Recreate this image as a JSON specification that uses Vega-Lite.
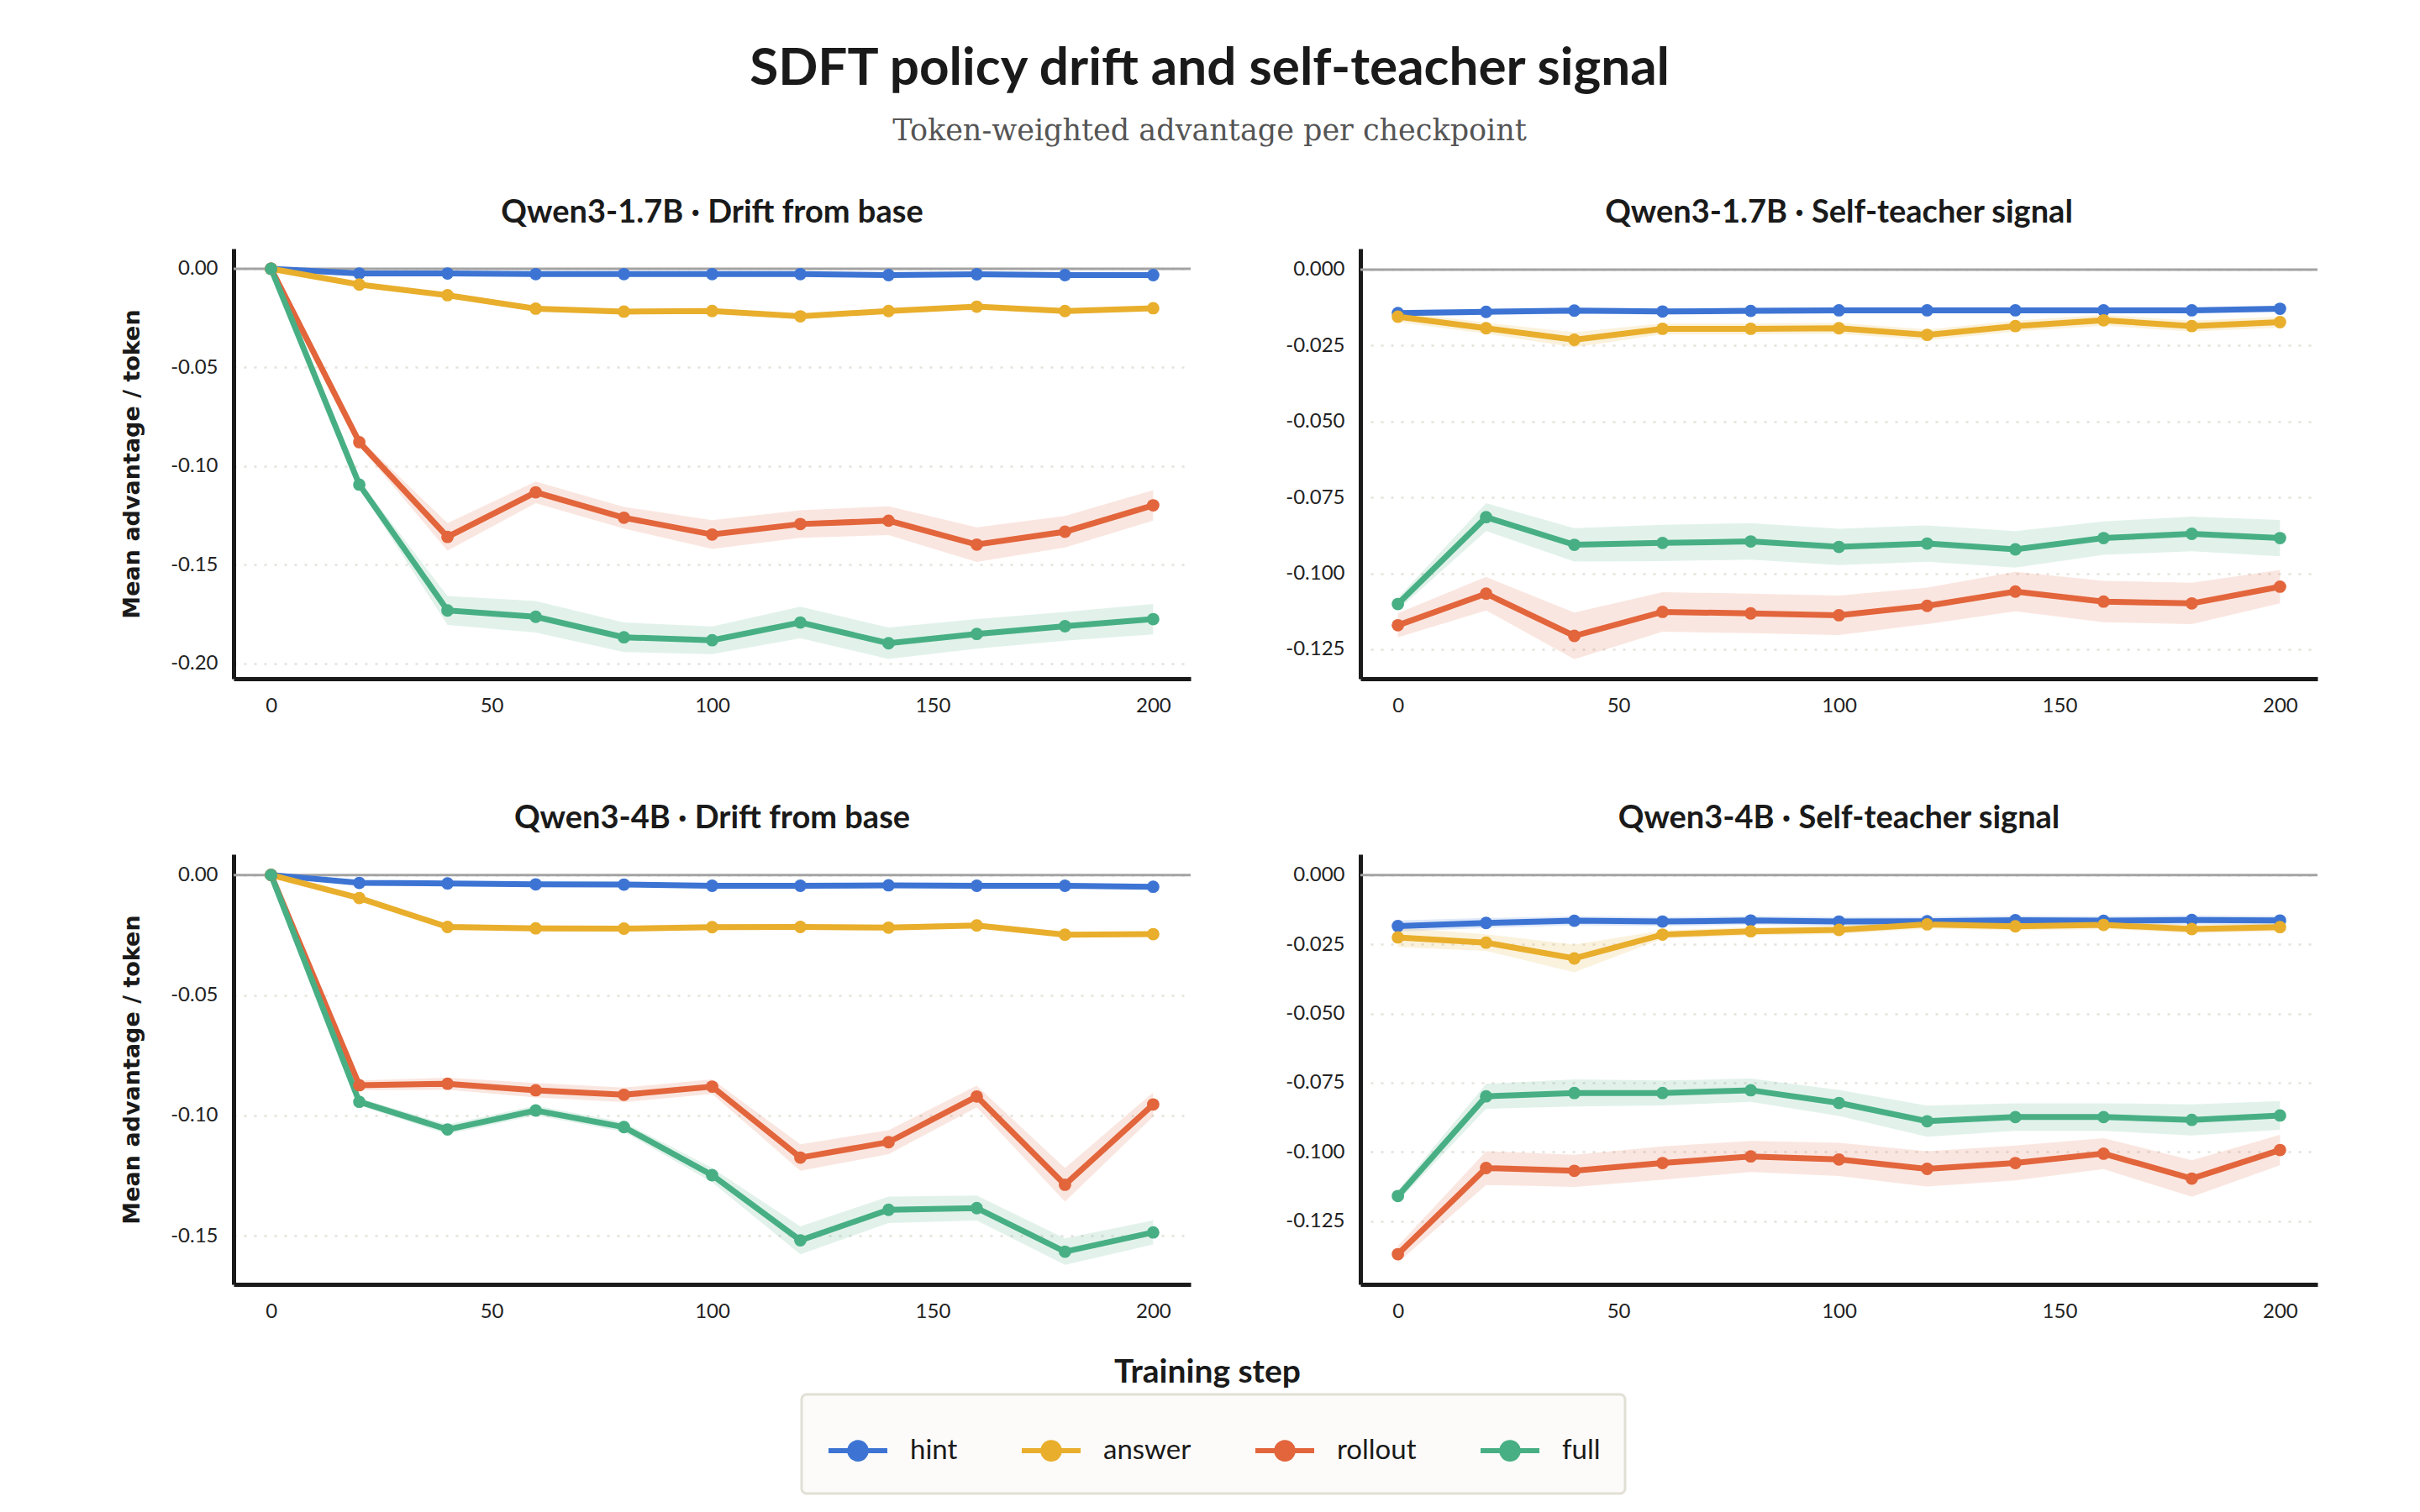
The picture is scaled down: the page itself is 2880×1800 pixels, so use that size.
{
  "$schema": "https://vega.github.io/schema/vega-lite/v6.json",
  "background": "#ffffff",
  "padding": {"left": 143, "top": 51, "right": 20, "bottom": 20},
  "title": {
    "text": "SDFT policy drift and self-teacher signal",
    "subtitle": "Token-weighted advantage per checkpoint",
    "anchor": "middle",
    "dx": -12,
    "font": "Lato",
    "fontSize": 62,
    "fontWeight": "bold",
    "color": "#1a1a1a",
    "subtitleFont": "DejaVu Serif",
    "subtitleFontSize": 35,
    "subtitleColor": "#555555",
    "subtitlePadding": 25,
    "offset": 60
  },
  "datasets": {
    "d17": [
      {"s": "hint", "x": 0, "v": 0, "e": 0},
      {"s": "hint", "x": 20, "v": -0.0024, "e": 0.0008},
      {"s": "hint", "x": 40, "v": -0.0024, "e": 0.0008},
      {"s": "hint", "x": 60, "v": -0.0027, "e": 0.0008},
      {"s": "hint", "x": 80, "v": -0.0027, "e": 0.0008},
      {"s": "hint", "x": 100, "v": -0.0027, "e": 0.0008},
      {"s": "hint", "x": 120, "v": -0.0027, "e": 0.0008},
      {"s": "hint", "x": 140, "v": -0.0032, "e": 0.0008},
      {"s": "hint", "x": 160, "v": -0.0028, "e": 0.0008},
      {"s": "hint", "x": 180, "v": -0.0032, "e": 0.0008},
      {"s": "hint", "x": 200, "v": -0.0032, "e": 0.0008},
      {"s": "answer", "x": 0, "v": 0, "e": 0},
      {"s": "answer", "x": 20, "v": -0.008, "e": 0.0012},
      {"s": "answer", "x": 40, "v": -0.0134, "e": 0.0012},
      {"s": "answer", "x": 60, "v": -0.0202, "e": 0.0012},
      {"s": "answer", "x": 80, "v": -0.0217, "e": 0.0012},
      {"s": "answer", "x": 100, "v": -0.0214, "e": 0.0012},
      {"s": "answer", "x": 120, "v": -0.0241, "e": 0.0012},
      {"s": "answer", "x": 140, "v": -0.0214, "e": 0.0012},
      {"s": "answer", "x": 160, "v": -0.0192, "e": 0.0012},
      {"s": "answer", "x": 180, "v": -0.0214, "e": 0.0012},
      {"s": "answer", "x": 200, "v": -0.02, "e": 0.0012},
      {"s": "rollout", "x": 0, "v": 0, "e": 0},
      {"s": "rollout", "x": 20, "v": -0.0879, "e": 0.002},
      {"s": "rollout", "x": 40, "v": -0.1359, "e": 0.007},
      {"s": "rollout", "x": 60, "v": -0.1133, "e": 0.0055},
      {"s": "rollout", "x": 80, "v": -0.1262, "e": 0.0055},
      {"s": "rollout", "x": 100, "v": -0.1347, "e": 0.0073},
      {"s": "rollout", "x": 120, "v": -0.1294, "e": 0.007},
      {"s": "rollout", "x": 140, "v": -0.1277, "e": 0.0073},
      {"s": "rollout", "x": 160, "v": -0.1398, "e": 0.0088},
      {"s": "rollout", "x": 180, "v": -0.1333, "e": 0.008},
      {"s": "rollout", "x": 200, "v": -0.1199, "e": 0.0077},
      {"s": "full", "x": 0, "v": 0, "e": 0},
      {"s": "full", "x": 20, "v": -0.1094, "e": 0.002},
      {"s": "full", "x": 40, "v": -0.1732, "e": 0.0073},
      {"s": "full", "x": 60, "v": -0.1764, "e": 0.008},
      {"s": "full", "x": 80, "v": -0.1868, "e": 0.0075},
      {"s": "full", "x": 100, "v": -0.1883, "e": 0.007},
      {"s": "full", "x": 120, "v": -0.1793, "e": 0.008},
      {"s": "full", "x": 140, "v": -0.1898, "e": 0.008},
      {"s": "full", "x": 160, "v": -0.1851, "e": 0.0075},
      {"s": "full", "x": 180, "v": -0.1812, "e": 0.0073},
      {"s": "full", "x": 200, "v": -0.1776, "e": 0.0077}
    ],
    "s17": [
      {"s": "hint", "x": 0, "v": -0.0143, "e": 0.001},
      {"s": "hint", "x": 20, "v": -0.0139, "e": 0.001},
      {"s": "hint", "x": 40, "v": -0.0135, "e": 0.001},
      {"s": "hint", "x": 60, "v": -0.0138, "e": 0.001},
      {"s": "hint", "x": 80, "v": -0.0136, "e": 0.001},
      {"s": "hint", "x": 100, "v": -0.0134, "e": 0.001},
      {"s": "hint", "x": 120, "v": -0.0134, "e": 0.001},
      {"s": "hint", "x": 140, "v": -0.0134, "e": 0.001},
      {"s": "hint", "x": 160, "v": -0.0134, "e": 0.001},
      {"s": "hint", "x": 180, "v": -0.0134, "e": 0.001},
      {"s": "hint", "x": 200, "v": -0.0129, "e": 0.001},
      {"s": "answer", "x": 0, "v": -0.0155, "e": 0.0018},
      {"s": "answer", "x": 20, "v": -0.0193, "e": 0.0018},
      {"s": "answer", "x": 40, "v": -0.0231, "e": 0.0025},
      {"s": "answer", "x": 60, "v": -0.0195, "e": 0.0018},
      {"s": "answer", "x": 80, "v": -0.0195, "e": 0.0018},
      {"s": "answer", "x": 100, "v": -0.0193, "e": 0.0018},
      {"s": "answer", "x": 120, "v": -0.0215, "e": 0.0018},
      {"s": "answer", "x": 140, "v": -0.0186, "e": 0.0018},
      {"s": "answer", "x": 160, "v": -0.0167, "e": 0.0018},
      {"s": "answer", "x": 180, "v": -0.0186, "e": 0.0018},
      {"s": "answer", "x": 200, "v": -0.0173, "e": 0.0018},
      {"s": "rollout", "x": 0, "v": -0.1171, "e": 0.004},
      {"s": "rollout", "x": 20, "v": -0.1067, "e": 0.0055},
      {"s": "rollout", "x": 40, "v": -0.1206, "e": 0.0077},
      {"s": "rollout", "x": 60, "v": -0.1127, "e": 0.0065},
      {"s": "rollout", "x": 80, "v": -0.1132, "e": 0.0065},
      {"s": "rollout", "x": 100, "v": -0.1138, "e": 0.0065},
      {"s": "rollout", "x": 120, "v": -0.1107, "e": 0.006},
      {"s": "rollout", "x": 140, "v": -0.106, "e": 0.0065},
      {"s": "rollout", "x": 160, "v": -0.1093, "e": 0.0068},
      {"s": "rollout", "x": 180, "v": -0.1099, "e": 0.0068},
      {"s": "rollout", "x": 200, "v": -0.1044, "e": 0.0055},
      {"s": "full", "x": 0, "v": -0.1101, "e": 0.002},
      {"s": "full", "x": 20, "v": -0.0815, "e": 0.0046},
      {"s": "full", "x": 40, "v": -0.0906, "e": 0.0055},
      {"s": "full", "x": 60, "v": -0.09, "e": 0.006},
      {"s": "full", "x": 80, "v": -0.0895, "e": 0.006},
      {"s": "full", "x": 100, "v": -0.0913, "e": 0.006},
      {"s": "full", "x": 120, "v": -0.0902, "e": 0.006},
      {"s": "full", "x": 140, "v": -0.0921, "e": 0.006},
      {"s": "full", "x": 160, "v": -0.0884, "e": 0.0055},
      {"s": "full", "x": 180, "v": -0.087, "e": 0.0057},
      {"s": "full", "x": 200, "v": -0.0884, "e": 0.006}
    ],
    "d4": [
      {"s": "hint", "x": 0, "v": 0, "e": 0},
      {"s": "hint", "x": 20, "v": -0.0033, "e": 0.0008},
      {"s": "hint", "x": 40, "v": -0.0035, "e": 0.0008},
      {"s": "hint", "x": 60, "v": -0.0039, "e": 0.0008},
      {"s": "hint", "x": 80, "v": -0.004, "e": 0.0008},
      {"s": "hint", "x": 100, "v": -0.0045, "e": 0.0008},
      {"s": "hint", "x": 120, "v": -0.0045, "e": 0.0008},
      {"s": "hint", "x": 140, "v": -0.0043, "e": 0.0008},
      {"s": "hint", "x": 160, "v": -0.0045, "e": 0.0008},
      {"s": "hint", "x": 180, "v": -0.0045, "e": 0.0008},
      {"s": "hint", "x": 200, "v": -0.0049, "e": 0.0008},
      {"s": "answer", "x": 0, "v": 0, "e": 0},
      {"s": "answer", "x": 20, "v": -0.0096, "e": 0.0012},
      {"s": "answer", "x": 40, "v": -0.0216, "e": 0.0012},
      {"s": "answer", "x": 60, "v": -0.0222, "e": 0.0012},
      {"s": "answer", "x": 80, "v": -0.0223, "e": 0.0012},
      {"s": "answer", "x": 100, "v": -0.0217, "e": 0.0012},
      {"s": "answer", "x": 120, "v": -0.0216, "e": 0.0012},
      {"s": "answer", "x": 140, "v": -0.0219, "e": 0.0012},
      {"s": "answer", "x": 160, "v": -0.021, "e": 0.0012},
      {"s": "answer", "x": 180, "v": -0.0248, "e": 0.0012},
      {"s": "answer", "x": 200, "v": -0.0246, "e": 0.0012},
      {"s": "rollout", "x": 0, "v": 0, "e": 0},
      {"s": "rollout", "x": 20, "v": -0.0874, "e": 0.002},
      {"s": "rollout", "x": 40, "v": -0.0868, "e": 0.0025},
      {"s": "rollout", "x": 60, "v": -0.0895, "e": 0.003},
      {"s": "rollout", "x": 80, "v": -0.0914, "e": 0.003},
      {"s": "rollout", "x": 100, "v": -0.088, "e": 0.003},
      {"s": "rollout", "x": 120, "v": -0.1175, "e": 0.0055},
      {"s": "rollout", "x": 140, "v": -0.1111, "e": 0.005},
      {"s": "rollout", "x": 160, "v": -0.0921, "e": 0.0045},
      {"s": "rollout", "x": 180, "v": -0.1288, "e": 0.007},
      {"s": "rollout", "x": 200, "v": -0.0954, "e": 0.005},
      {"s": "full", "x": 0, "v": 0, "e": 0},
      {"s": "full", "x": 20, "v": -0.0943, "e": 0.0015},
      {"s": "full", "x": 40, "v": -0.1058, "e": 0.002},
      {"s": "full", "x": 60, "v": -0.0979, "e": 0.002},
      {"s": "full", "x": 80, "v": -0.1048, "e": 0.002},
      {"s": "full", "x": 100, "v": -0.1248, "e": 0.003},
      {"s": "full", "x": 120, "v": -0.1519, "e": 0.0058},
      {"s": "full", "x": 140, "v": -0.1392, "e": 0.0055},
      {"s": "full", "x": 160, "v": -0.1385, "e": 0.0052},
      {"s": "full", "x": 180, "v": -0.1566, "e": 0.0055},
      {"s": "full", "x": 200, "v": -0.1486, "e": 0.005}
    ],
    "s4": [
      {"s": "hint", "x": 0, "v": -0.0184, "e": 0.002},
      {"s": "hint", "x": 20, "v": -0.0173, "e": 0.0018},
      {"s": "hint", "x": 40, "v": -0.0165, "e": 0.0016},
      {"s": "hint", "x": 60, "v": -0.0168, "e": 0.0016},
      {"s": "hint", "x": 80, "v": -0.0164, "e": 0.0016},
      {"s": "hint", "x": 100, "v": -0.0168, "e": 0.0016},
      {"s": "hint", "x": 120, "v": -0.0167, "e": 0.0016},
      {"s": "hint", "x": 140, "v": -0.0163, "e": 0.0016},
      {"s": "hint", "x": 160, "v": -0.0165, "e": 0.0016},
      {"s": "hint", "x": 180, "v": -0.0162, "e": 0.0016},
      {"s": "hint", "x": 200, "v": -0.0164, "e": 0.0016},
      {"s": "answer", "x": 0, "v": -0.0225, "e": 0.0035},
      {"s": "answer", "x": 20, "v": -0.0244, "e": 0.003},
      {"s": "answer", "x": 40, "v": -0.0301, "e": 0.005},
      {"s": "answer", "x": 60, "v": -0.0215, "e": 0.0015},
      {"s": "answer", "x": 80, "v": -0.0203, "e": 0.0015},
      {"s": "answer", "x": 100, "v": -0.0198, "e": 0.0015},
      {"s": "answer", "x": 120, "v": -0.0178, "e": 0.0015},
      {"s": "answer", "x": 140, "v": -0.0185, "e": 0.0015},
      {"s": "answer", "x": 160, "v": -0.018, "e": 0.0015},
      {"s": "answer", "x": 180, "v": -0.0195, "e": 0.0015},
      {"s": "answer", "x": 200, "v": -0.0188, "e": 0.0015},
      {"s": "rollout", "x": 0, "v": -0.1369, "e": 0.003},
      {"s": "rollout", "x": 20, "v": -0.1058, "e": 0.0061},
      {"s": "rollout", "x": 40, "v": -0.1068, "e": 0.0058},
      {"s": "rollout", "x": 60, "v": -0.104, "e": 0.006},
      {"s": "rollout", "x": 80, "v": -0.1016, "e": 0.0056},
      {"s": "rollout", "x": 100, "v": -0.1027, "e": 0.006},
      {"s": "rollout", "x": 120, "v": -0.1061, "e": 0.0064},
      {"s": "rollout", "x": 140, "v": -0.104, "e": 0.0063},
      {"s": "rollout", "x": 160, "v": -0.1006, "e": 0.0056},
      {"s": "rollout", "x": 180, "v": -0.1096, "e": 0.0066},
      {"s": "rollout", "x": 200, "v": -0.0993, "e": 0.0055},
      {"s": "full", "x": 0, "v": -0.1159, "e": 0.002},
      {"s": "full", "x": 20, "v": -0.0799, "e": 0.0045},
      {"s": "full", "x": 40, "v": -0.0787, "e": 0.0049},
      {"s": "full", "x": 60, "v": -0.0787, "e": 0.0045},
      {"s": "full", "x": 80, "v": -0.0777, "e": 0.0042},
      {"s": "full", "x": 100, "v": -0.0823, "e": 0.0047},
      {"s": "full", "x": 120, "v": -0.0889, "e": 0.0056},
      {"s": "full", "x": 140, "v": -0.0874, "e": 0.005},
      {"s": "full", "x": 160, "v": -0.0874, "e": 0.005},
      {"s": "full", "x": 180, "v": -0.0884, "e": 0.0056},
      {"s": "full", "x": 200, "v": -0.0868, "e": 0.0052}
    ]
  },
  "vconcat": [
    {
      "vconcat": [
        {
          "hconcat": [
            {
              "width": 1139, "height": 512,
              "title": "Qwen3-1.7B · Drift from base",
              "data": {"name": "d17"},
              "layer": [
                {"data": {"values": [{}]}, "mark": {"type": "rule", "color": "#a3a3a3", "strokeWidth": 3}, "encoding": {"y": {"datum": 0, "type": "quantitative", "scale": {"domain": [-0.2078, 0.0102], "nice": false, "zero": false}}}},
                {"mark": {"type": "errorband", "band": {"opacity": 0.16}}, "encoding": {
                  "x": {"field": "x", "type": "quantitative", "scale": {"domain": [-8.5, 208.5], "nice": false}, "axis": {"values": [0, 50, 100, 150, 200], "format": "d", "title": null}},
                  "y": {"field": "v", "type": "quantitative", "scale": {"domain": [-0.2078, 0.0102], "nice": false, "zero": false}, "axis": {"values": [0, -0.05, -0.1, -0.15, -0.2], "format": ".2f", "title": "Mean advantage / token", "grid": true}},
                  "yError": {"field": "e"},
                  "color": {"field": "s", "type": "nominal", "scale": {"domain": ["hint", "answer", "rollout", "full"], "range": ["#3d74d3", "#e8ae2c", "#e2653c", "#48af84"]}, "legend": {
                    "orient": "none", "legendX": 676, "legendY": 1364, "direction": "horizontal", "title": null,
                    "symbolType": "M-1,0H1M0.28,0A0.28,0.28,0,1,1,-0.28,0A0.28,0.28,0,1,1,0.28,0Z",
                    "symbolSize": 4900, "symbolStrokeWidth": 6, "symbolOpacity": 1,
                    "labelFont": "Lato", "labelFontSize": 33, "labelColor": "#1a1a1a", "labelOffset": 24,
                    "columnPadding": 64, "padding": 29,
                    "fillColor": "#fcfbf9", "strokeColor": "#e2dfd5", "cornerRadius": 6,
                    "encode": {
                      "symbols": {"update": {"fill": {"scale": "color", "field": "value"}, "stroke": {"scale": "color", "field": "value"}, "opacity": {"value": 1}, "fillOpacity": {"value": 1}, "strokeOpacity": {"value": 1}, "strokeWidth": {"value": 6}}},
                      "legend": {"update": {"strokeWidth": {"value": 3}}}
                    }}}}},
                {"mark": {"type": "line", "strokeWidth": 7}, "encoding": {
                  "x": {"field": "x", "type": "quantitative"},
                  "y": {"field": "v", "type": "quantitative"},
                  "color": {"field": "s", "type": "nominal"}}},
                {"mark": {"type": "point", "filled": true, "size": 220, "opacity": 1}, "encoding": {
                  "x": {"field": "x", "type": "quantitative"},
                  "y": {"field": "v", "type": "quantitative"},
                  "color": {"field": "s", "type": "nominal"}}}
              ]
            },
            {
              "width": 1139, "height": 512,
              "title": "Qwen3-1.7B · Self-teacher signal",
              "data": {"name": "s17"},
              "layer": [
                {"data": {"values": [{}]}, "mark": {"type": "rule", "color": "#a3a3a3", "strokeWidth": 3}, "encoding": {"y": {"datum": 0, "type": "quantitative", "scale": {"domain": [-0.1347, 0.0069], "nice": false, "zero": false}}}},
                {"mark": {"type": "errorband", "band": {"opacity": 0.16}}, "encoding": {
                  "x": {"field": "x", "type": "quantitative", "scale": {"domain": [-8.5, 208.5], "nice": false}, "axis": {"values": [0, 50, 100, 150, 200], "format": "d", "title": null}},
                  "y": {"field": "v", "type": "quantitative", "scale": {"domain": [-0.1347, 0.0069], "nice": false, "zero": false}, "axis": {"values": [0, -0.025, -0.05, -0.075, -0.1, -0.125], "format": ".3f", "title": null, "grid": true}},
                  "yError": {"field": "e"},
                  "color": {"field": "s", "type": "nominal"}}},
                {"mark": {"type": "line", "strokeWidth": 7}, "encoding": {
                  "x": {"field": "x", "type": "quantitative"},
                  "y": {"field": "v", "type": "quantitative"},
                  "color": {"field": "s", "type": "nominal"}}},
                {"mark": {"type": "point", "filled": true, "size": 220, "opacity": 1}, "encoding": {
                  "x": {"field": "x", "type": "quantitative"},
                  "y": {"field": "v", "type": "quantitative"},
                  "color": {"field": "s", "type": "nominal"}}}
              ]
            }
          ],
          "spacing": 110,
          "resolve": {"scale": {"x": "independent", "y": "independent"}}
        },
        {
          "hconcat": [
            {
              "width": 1139, "height": 512,
              "title": "Qwen3-4B · Drift from base",
              "data": {"name": "d4"},
              "layer": [
                {"data": {"values": [{}]}, "mark": {"type": "rule", "color": "#a3a3a3", "strokeWidth": 3}, "encoding": {"y": {"datum": 0, "type": "quantitative", "scale": {"domain": [-0.1702, 0.0086], "nice": false, "zero": false}}}},
                {"mark": {"type": "errorband", "band": {"opacity": 0.16}}, "encoding": {
                  "x": {"field": "x", "type": "quantitative", "scale": {"domain": [-8.5, 208.5], "nice": false}, "axis": {"values": [0, 50, 100, 150, 200], "format": "d", "title": null}},
                  "y": {"field": "v", "type": "quantitative", "scale": {"domain": [-0.1702, 0.0086], "nice": false, "zero": false}, "axis": {"values": [0, -0.05, -0.1, -0.15], "format": ".2f", "title": "Mean advantage / token", "grid": true}},
                  "yError": {"field": "e"},
                  "color": {"field": "s", "type": "nominal"}}},
                {"mark": {"type": "line", "strokeWidth": 7}, "encoding": {
                  "x": {"field": "x", "type": "quantitative"},
                  "y": {"field": "v", "type": "quantitative"},
                  "color": {"field": "s", "type": "nominal"}}},
                {"mark": {"type": "point", "filled": true, "size": 220, "opacity": 1}, "encoding": {
                  "x": {"field": "x", "type": "quantitative"},
                  "y": {"field": "v", "type": "quantitative"},
                  "color": {"field": "s", "type": "nominal"}}}
              ]
            },
            {
              "width": 1139, "height": 512,
              "title": "Qwen3-4B · Self-teacher signal",
              "data": {"name": "s4"},
              "layer": [
                {"data": {"values": [{}]}, "mark": {"type": "rule", "color": "#a3a3a3", "strokeWidth": 3}, "encoding": {"y": {"datum": 0, "type": "quantitative", "scale": {"domain": [-0.1478, 0.0075], "nice": false, "zero": false}}}},
                {"mark": {"type": "errorband", "band": {"opacity": 0.16}}, "encoding": {
                  "x": {"field": "x", "type": "quantitative", "scale": {"domain": [-8.5, 208.5], "nice": false}, "axis": {"values": [0, 50, 100, 150, 200], "format": "d", "title": null}},
                  "y": {"field": "v", "type": "quantitative", "scale": {"domain": [-0.1478, 0.0075], "nice": false, "zero": false}, "axis": {"values": [0, -0.025, -0.05, -0.075, -0.1, -0.125], "format": ".3f", "title": null, "grid": true}},
                  "yError": {"field": "e"},
                  "color": {"field": "s", "type": "nominal"}}},
                {"mark": {"type": "line", "strokeWidth": 7}, "encoding": {
                  "x": {"field": "x", "type": "quantitative"},
                  "y": {"field": "v", "type": "quantitative"},
                  "color": {"field": "s", "type": "nominal"}}},
                {"mark": {"type": "point", "filled": true, "size": 220, "opacity": 1}, "encoding": {
                  "x": {"field": "x", "type": "quantitative"},
                  "y": {"field": "v", "type": "quantitative"},
                  "color": {"field": "s", "type": "nominal"}}}
              ]
            }
          ],
          "spacing": 110,
          "resolve": {"scale": {"x": "independent", "y": "independent"}}
        }
      ],
      "spacing": 104,
      "resolve": {"scale": {"x": "independent", "y": "independent"}}
    },
    {
      "width": 2318, "height": 1,
      "title": {"text": "Training step", "fontSize": 39, "offset": 0},
      "data": {"values": []},
      "mark": "rule",
      "encoding": {}
    }
  ],
  "spacing": 42,
  "resolve": {"scale": {"x": "independent", "y": "independent"}},
  "config": {
    "view": {"stroke": null},
    "font": "Lato",
    "axis": {
      "labelFont": "Lato", "labelFontSize": 24, "labelColor": "#222222",
      "domainColor": "#1a1a1a", "domainWidth": 5, "ticks": false, "labelPadding": 19,
      "gridColor": "#e4e2da", "gridDash": [3, 9], "gridWidth": 2.5,
      "titleFont": "DejaVu Sans", "titleFontSize": 27, "titleFontWeight": "bold", "titleColor": "#1a1a1a", "titlePadding": 31
    },
    "axisX": {"grid": false, "labelPadding": 20},
    "title": {"font": "Lato", "fontSize": 38, "fontWeight": "bold", "color": "#1a1a1a", "offset": 23},
    "locale": {"number": {"decimal": ".", "thousands": ",", "grouping": [3], "currency": ["$", ""], "minus": "-"}}
  }
}
